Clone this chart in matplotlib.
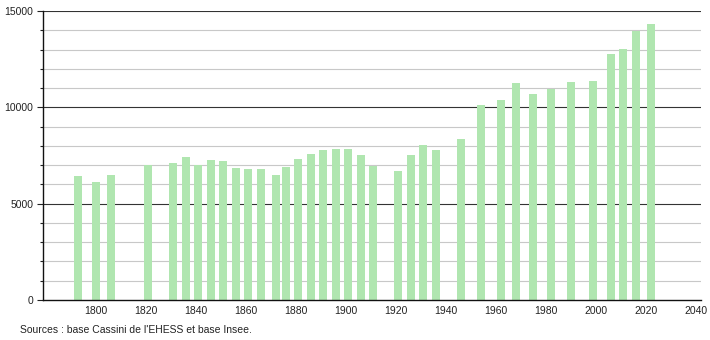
import matplotlib
matplotlib.use("Agg")
import matplotlib.pyplot as plt
from matplotlib.ticker import MultipleLocator

# census years and population
years = [1793, 1800, 1806, 1821, 1831, 1836, 1841, 1846, 1851, 1856,
         1861, 1866, 1872, 1876, 1881, 1886, 1891, 1896, 1901, 1906,
         1911, 1921, 1926, 1931, 1936, 1946, 1954, 1962, 1968, 1975,
         1982, 1990, 1999, 2006, 2011, 2016, 2022]
population = [6461, 6114, 6477, 6995, 7098, 7409, 6995, 7270, 7202, 6874,
              6822, 6822, 6477, 6891, 7340, 7565, 7772, 7858, 7824, 7513,
              6960, 6684, 7505, 8031, 7772, 8342, 10119, 10397, 11277, 10709,
              10940, 11295, 11347, 12746, 13040, 13953, 14337]

x_ticks = [1800, 1820, 1840, 1860, 1880, 1900, 1920, 1940, 1960, 1980, 2000, 2020, 2040]
y_major = [0, 5000, 10000, 15000]
source_text = "Sources : base Cassini de l'EHESS et base Insee."

plt.rcParams['font.family'] = ['Liberation Sans', 'DejaVu Sans']

fig = plt.figure(figsize=(7.1, 3.4), dpi=100)
ax = fig.add_axes([43 / 710, 1 - 300 / 340, (701 - 43) / 710, (300 - 11) / 340])

# gridlines: light every 1000, dark every 5000
for v in range(1000, 15001, 1000):
    if v % 5000 == 0:
        ax.axhline(v, color="#333333", lw=0.8, zorder=1)
    else:
        ax.axhline(v, color="#c8c8c8", lw=0.8, zorder=1)

ax.bar(years, population, width=3.2, color="#b0e6b0", zorder=2)

ax.set_xlim(1779, 2042)
ax.set_ylim(0, 15000)
ax.set_xticks(x_ticks)
ax.set_yticks(y_major)
ax.yaxis.set_minor_locator(MultipleLocator(1000))
ax.tick_params(axis="x", length=0, labelsize=7.5, pad=4, colors="#222222")
ax.tick_params(axis="y", which="major", length=4, width=0.8, labelsize=7.5, pad=3, colors="#222222")
ax.tick_params(axis="y", which="minor", length=2.5, width=0.8, colors="#222222")

for side in ["top", "right"]:
    ax.spines[side].set_visible(False)
for side in ["left", "bottom"]:
    ax.spines[side].set_color("#111111")
    ax.spines[side].set_linewidth(1.0)
    ax.spines[side].set_zorder(3)

fig.text(20 / 710, 1 - 330 / 340, source_text, fontsize=7.5, va="center", ha="left", color="#222222")

fig.savefig("out.png", dpi=100)
